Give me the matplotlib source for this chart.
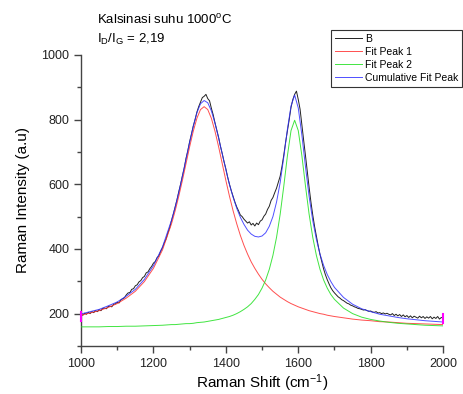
import matplotlib
matplotlib.use("Agg")
import matplotlib.pyplot as plt
from matplotlib.ticker import MultipleLocator

# ---- data ----
data_x = list(range(1000, 2001, 5))
data_y = [198, 195, 201, 198, 204, 200, 206, 203, 209, 206,
          212, 209, 216, 217, 215, 222, 223, 221, 229, 230,
          235, 233, 242, 246, 249, 258, 264, 265, 275, 277,
          286, 289, 298, 302, 311, 315, 326, 329, 339, 346,
          356, 361, 373, 379, 393, 404, 419, 431, 450, 466,
          488, 508, 530, 552, 577, 600, 626, 650, 680, 704,
          732, 755, 780, 800, 823, 840, 854, 868, 872, 878,
          865, 858, 835, 815, 790, 768, 745, 718, 695, 670,
          648, 622, 600, 580, 562, 545, 530, 518, 505, 500,
          492, 486, 480, 484, 474, 479, 471, 480, 475, 486,
          490, 501, 508, 522, 532, 550, 559, 574, 588, 607,
          625, 655, 690, 730, 765, 800, 838, 862, 878, 888,
          862, 832, 782, 735, 688, 638, 590, 545, 505, 470,
          440, 410, 383, 360, 338, 320, 305, 292, 280, 271,
          264, 258, 252, 248, 243, 240, 236, 232, 230, 226,
          224, 221, 219, 216, 215, 213, 211, 212, 209, 207,
          208, 205, 204, 206, 202, 203, 200, 202, 199, 201,
          198, 196, 200, 194, 198, 193, 197, 191, 196, 190,
          194, 188, 193, 187, 192, 189, 186, 192, 187, 191,
          185, 190, 186, 191, 184, 189, 185, 191, 183, 188,
          186]

fit_x = [1000, 1025, 1050, 1075, 1100, 1125, 1150, 1175, 1200, 1225,
         1250, 1260, 1270, 1280, 1290, 1300, 1310, 1320, 1330, 1340,
         1350, 1360, 1370, 1380, 1390, 1400, 1410, 1420, 1430, 1440,
         1450, 1460, 1470, 1480, 1490, 1500, 1510, 1520, 1530, 1540,
         1550, 1560, 1570, 1580, 1590, 1600, 1610, 1620, 1630, 1640,
         1650, 1660, 1670, 1680, 1690, 1700, 1725, 1750, 1775, 1800,
         1825, 1850, 1875, 1900, 1925, 1950, 1975, 2000]

peak1_y = [195, 202, 209, 219, 231, 248, 269, 299, 340, 397,
           478, 518, 563, 612, 664, 716, 764, 804, 831, 840,
           831, 804, 764, 716, 664, 612, 563, 518, 478, 442,
           411, 384, 360, 340, 322, 306, 292, 280, 269, 260,
           251, 244, 237, 231, 226, 221, 217, 213, 209, 206,
           203, 200, 198, 195, 193, 191, 187, 183, 180, 178,
           175, 174, 172, 170, 169, 168, 167, 166]

peak2_y = [159, 159, 159, 160, 160, 161, 161, 162, 163, 164,
           166, 166, 167, 168, 169, 169, 170, 172, 173, 174,
           176, 178, 180, 182, 185, 188, 191, 195, 200, 206,
           213, 221, 231, 244, 259, 279, 304, 337, 380, 436,
           507, 594, 688, 766, 798, 766, 688, 594, 507, 436,
           380, 337, 304, 279, 259, 244, 217, 200, 189, 182,
           177, 173, 170, 168, 166, 164, 163, 162]

cumul_y = [199, 206, 213, 224, 236, 254, 275, 306, 348, 406,
           489, 529, 575, 625, 678, 730, 779, 821, 849, 859,
           852, 827, 789, 743, 694, 645, 599, 560, 526, 498,
           476, 458, 446, 439, 437, 440, 450, 470, 500, 545,
           605, 684, 770, 842, 876, 836, 752, 654, 562, 488,
           430, 384, 349, 321, 299, 281, 250, 229, 215, 206,
           198, 193, 188, 184, 181, 178, 176, 174]

labels = ["B", "Fit Peak 1", "Fit Peak 2", "Cumulative Fit Peak"]

plt.rcParams['font.family'] = ['Liberation Sans', 'DejaVu Sans']

fig = plt.figure(figsize=(4.63, 3.94), dpi=100)
ax = fig.add_axes([0.175, 0.122, 0.782, 0.7386])

ax.plot(data_x, data_y, color='#222222', lw=0.7, label=labels[0], zorder=3)
ax.plot(fit_x, peak1_y, color='#ff3030', lw=0.7, alpha=0.85, label=labels[1], zorder=4)
ax.plot(fit_x, peak2_y, color='#20e020', lw=0.7, alpha=0.85, label=labels[2], zorder=4)
ax.plot(fit_x, cumul_y, color='#3030ff', lw=0.7, alpha=0.85, label=labels[3], zorder=4)

# Origin range markers
ax.plot([1000, 1000], [178, 205], color='#ff00ff', lw=1.5, clip_on=False, zorder=5)
ax.plot([2000, 2000], [172, 200], color='#ff00ff', lw=1.5, clip_on=False, zorder=5)

ax.set_xlim(1000, 2000)
ax.set_ylim(100, 1000)
ax.xaxis.set_major_locator(MultipleLocator(200))
ax.xaxis.set_minor_locator(MultipleLocator(100))
ax.yaxis.set_major_locator(MultipleLocator(200))
ax.yaxis.set_minor_locator(MultipleLocator(100))
ax.set_yticks([200, 400, 600, 800, 1000])

for s in ['top', 'right']:
    ax.spines[s].set_visible(False)
for s in ['left', 'bottom']:
    ax.spines[s].set_color('#444444')
    ax.spines[s].set_linewidth(1.0)

ax.tick_params(which='major', direction='out', length=5, width=1, color='#444444',
               labelsize=9, labelcolor='#222222')
ax.tick_params(which='minor', direction='out', length=3, width=1, color='#444444')

ax.set_xlabel('Raman Shift (cm$\\mathregular{^{-1}}$)', fontsize=11, labelpad=2)
ax.set_ylabel('Raman Intensity (a.u)', fontsize=11, labelpad=8)

fig.text(97/463, 1 - 20/394, 'Kalsinasi suhu 1000$\\mathregular{^o}$C', fontsize=9.5,
         va='center', ha='left')
fig.text(97/463, 1 - 39/394, '$\\mathregular{I_D/I_G}$ = 2,19', fontsize=9.5,
         va='center', ha='left')

leg = ax.legend(loc='upper right', bbox_to_anchor=(462/463, 1 - 30/394),
                bbox_transform=fig.transFigure, fontsize=7.5, frameon=True,
                fancybox=False, framealpha=1, edgecolor='#333333',
                handlelength=2.6, handletextpad=0.3, borderpad=0.35,
                labelspacing=0.3, borderaxespad=0)
leg.get_frame().set_linewidth(0.8)

fig.savefig('out.png', dpi=100)
